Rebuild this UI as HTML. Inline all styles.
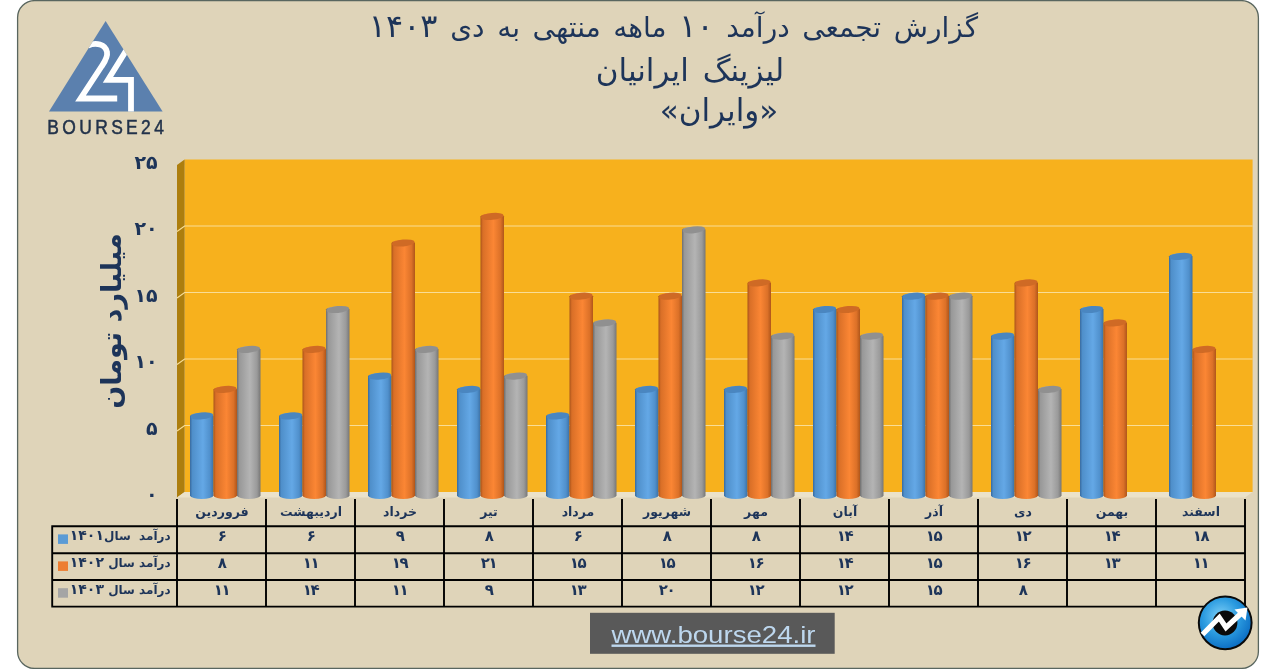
<!DOCTYPE html>
<html lang="fa"><head><meta charset="utf-8"><title>bourse24</title>
<style>html,body{margin:0;padding:0;background:#fff;}body{width:1271px;height:669px;overflow:hidden;}svg{display:block;}text{font-family:"DejaVu Sans", sans-serif;}text.la{font-family:"Liberation Sans",sans-serif;}</style>
</head><body>
<svg width="1271" height="669" viewBox="0 0 1271 669">
<defs>
<linearGradient id="gb" x1="0" y1="0" x2="1" y2="0">
<stop offset="0" stop-color="#386a9e"/>
<stop offset="0.1" stop-color="#4f8fca"/>
<stop offset="0.55" stop-color="#64a8e6"/>
<stop offset="0.85" stop-color="#5090cc"/>
<stop offset="1" stop-color="#3c70a4"/>
</linearGradient>
<linearGradient id="go" x1="0" y1="0" x2="1" y2="0">
<stop offset="0" stop-color="#a9531a"/>
<stop offset="0.1" stop-color="#d96f27"/>
<stop offset="0.55" stop-color="#fb8634"/>
<stop offset="0.85" stop-color="#dc7128"/>
<stop offset="1" stop-color="#b0561a"/>
</linearGradient>
<linearGradient id="gg" x1="0" y1="0" x2="1" y2="0">
<stop offset="0" stop-color="#6e6e6e"/>
<stop offset="0.1" stop-color="#989898"/>
<stop offset="0.55" stop-color="#b4b4b4"/>
<stop offset="0.85" stop-color="#9a9a9a"/>
<stop offset="1" stop-color="#767676"/>
</linearGradient>
<radialGradient id="ball" cx="0.42" cy="0.38" r="0.62"><stop offset="0" stop-color="#7fd0f7"/><stop offset="0.55" stop-color="#2b9be0"/><stop offset="1" stop-color="#0d6fc4"/></radialGradient>
</defs>
<rect x="17.6" y="0.6" width="1240.8" height="667.8" rx="17" ry="17" fill="#dfd4b9" stroke="#59665f" stroke-width="1.3"/>
<clipPath id="tri"><polygon points="105.6,21 49,111.5 162.6,111.5"/></clipPath>
<g>
<polygon points="105.6,21 49,111.5 162.6,111.5" fill="#5b80ae"/>
<g clip-path="url(#tri)">
<path d="M88,45.5 C96,42 105.5,44 107,52 C108,57.5 104.5,62 101.5,66.5 L80.5,98.5 L117.2,98.5" fill="none" stroke="#fff" stroke-width="5.8"/>
<path d="M129,46 L108,79.8 L131,79.8 L131,113" fill="none" stroke="#fff" stroke-width="5.8"/>
</g>
<text transform="translate(47.3,133.9) scale(0.86,1)" class="la" font-size="20.3" letter-spacing="3.9" fill="#22324a" stroke="#22324a" stroke-width="0.5">BOURSE24</text>
</g>
<text x="673.4" y="36.8" text-anchor="middle" font-size="28" word-spacing="3.7" fill="#1d3459" direction="rtl">گزارش تجمعی درآمد <tspan font-size="32">۱۰</tspan> ماهه منتهی به دی <tspan font-size="32">۱۴۰۳</tspan></text>
<text x="690" y="80.5" text-anchor="middle" font-size="31" word-spacing="4" fill="#1d3459" direction="rtl">لیزینگ ایرانیان</text>
<text x="719" y="121" text-anchor="middle" font-size="31" fill="#1d3459" direction="rtl">«وایران»</text>
<polygon points="184.6,159.5 1252.6,159.5 1252.6,492.0 184.6,492.0" fill="#f7b11d"/>
<polygon points="177.0,165.0 184.6,159.5 184.6,492.0 177.0,497.5" fill="#ad7e0e"/>
<polygon points="177.0,497.5 184.6,492.0 1252.6,492.0 1245.0,497.5" fill="#ebe2ca"/>
<path d="M177.0,231.5 L184.6,226.0 L1252.6,226.0" fill="none" stroke="#f9dd96" stroke-width="1.15"/>
<path d="M177.0,298.0 L184.6,292.5 L1252.6,292.5" fill="none" stroke="#f9dd96" stroke-width="1.15"/>
<path d="M177.0,364.5 L184.6,359.0 L1252.6,359.0" fill="none" stroke="#f9dd96" stroke-width="1.15"/>
<path d="M177.0,431.0 L184.6,425.5 L1252.6,425.5" fill="none" stroke="#f9dd96" stroke-width="1.15"/>
<path d="M190.0,415.9 L190.0,495.8 A11.8,3.4 0 0 0 213.5,495.8 L213.5,415.9 A11.8,3.4 0 0 0 190.0,415.9 Z" fill="url(#gb)"/>
<ellipse cx="201.8" cy="415.9" rx="11.4" ry="3.4" fill="#4a86c0" transform="rotate(-6 201.8 415.9)"/>
<path d="M213.5,389.4 L213.5,495.8 A11.8,3.4 0 0 0 237.0,495.8 L237.0,389.4 A11.8,3.4 0 0 0 213.5,389.4 Z" fill="url(#go)"/>
<ellipse cx="225.2" cy="389.4" rx="11.4" ry="3.4" fill="#cf6a25" transform="rotate(-6 225.2 389.4)"/>
<path d="M237.0,349.4 L237.0,495.8 A11.8,3.4 0 0 0 260.5,495.8 L260.5,349.4 A11.8,3.4 0 0 0 237.0,349.4 Z" fill="url(#gg)"/>
<ellipse cx="248.8" cy="349.4" rx="11.4" ry="3.4" fill="#909090" transform="rotate(-6 248.8 349.4)"/>
<path d="M279.0,415.9 L279.0,495.8 A11.8,3.4 0 0 0 302.5,495.8 L302.5,415.9 A11.8,3.4 0 0 0 279.0,415.9 Z" fill="url(#gb)"/>
<ellipse cx="290.8" cy="415.9" rx="11.4" ry="3.4" fill="#4a86c0" transform="rotate(-6 290.8 415.9)"/>
<path d="M302.5,349.4 L302.5,495.8 A11.8,3.4 0 0 0 326.0,495.8 L326.0,349.4 A11.8,3.4 0 0 0 302.5,349.4 Z" fill="url(#go)"/>
<ellipse cx="314.2" cy="349.4" rx="11.4" ry="3.4" fill="#cf6a25" transform="rotate(-6 314.2 349.4)"/>
<path d="M326.0,309.5 L326.0,495.8 A11.8,3.4 0 0 0 349.5,495.8 L349.5,309.5 A11.8,3.4 0 0 0 326.0,309.5 Z" fill="url(#gg)"/>
<ellipse cx="337.8" cy="309.5" rx="11.4" ry="3.4" fill="#909090" transform="rotate(-6 337.8 309.5)"/>
<path d="M368.0,376.1 L368.0,495.8 A11.8,3.4 0 0 0 391.5,495.8 L391.5,376.1 A11.8,3.4 0 0 0 368.0,376.1 Z" fill="url(#gb)"/>
<ellipse cx="379.8" cy="376.1" rx="11.4" ry="3.4" fill="#4a86c0" transform="rotate(-6 379.8 376.1)"/>
<path d="M391.5,243.0 L391.5,495.8 A11.8,3.4 0 0 0 415.0,495.8 L415.0,243.0 A11.8,3.4 0 0 0 391.5,243.0 Z" fill="url(#go)"/>
<ellipse cx="403.2" cy="243.0" rx="11.4" ry="3.4" fill="#cf6a25" transform="rotate(-6 403.2 243.0)"/>
<path d="M415.0,349.4 L415.0,495.8 A11.8,3.4 0 0 0 438.5,495.8 L438.5,349.4 A11.8,3.4 0 0 0 415.0,349.4 Z" fill="url(#gg)"/>
<ellipse cx="426.8" cy="349.4" rx="11.4" ry="3.4" fill="#909090" transform="rotate(-6 426.8 349.4)"/>
<path d="M457.0,389.4 L457.0,495.8 A11.8,3.4 0 0 0 480.5,495.8 L480.5,389.4 A11.8,3.4 0 0 0 457.0,389.4 Z" fill="url(#gb)"/>
<ellipse cx="468.8" cy="389.4" rx="11.4" ry="3.4" fill="#4a86c0" transform="rotate(-6 468.8 389.4)"/>
<path d="M480.5,216.4 L480.5,495.8 A11.8,3.4 0 0 0 504.0,495.8 L504.0,216.4 A11.8,3.4 0 0 0 480.5,216.4 Z" fill="url(#go)"/>
<ellipse cx="492.2" cy="216.4" rx="11.4" ry="3.4" fill="#cf6a25" transform="rotate(-6 492.2 216.4)"/>
<path d="M504.0,376.1 L504.0,495.8 A11.8,3.4 0 0 0 527.5,495.8 L527.5,376.1 A11.8,3.4 0 0 0 504.0,376.1 Z" fill="url(#gg)"/>
<ellipse cx="515.8" cy="376.1" rx="11.4" ry="3.4" fill="#909090" transform="rotate(-6 515.8 376.1)"/>
<path d="M546.0,415.9 L546.0,495.8 A11.8,3.4 0 0 0 569.5,495.8 L569.5,415.9 A11.8,3.4 0 0 0 546.0,415.9 Z" fill="url(#gb)"/>
<ellipse cx="557.8" cy="415.9" rx="11.4" ry="3.4" fill="#4a86c0" transform="rotate(-6 557.8 415.9)"/>
<path d="M569.5,296.2 L569.5,495.8 A11.8,3.4 0 0 0 593.0,495.8 L593.0,296.2 A11.8,3.4 0 0 0 569.5,296.2 Z" fill="url(#go)"/>
<ellipse cx="581.2" cy="296.2" rx="11.4" ry="3.4" fill="#cf6a25" transform="rotate(-6 581.2 296.2)"/>
<path d="M593.0,322.9 L593.0,495.8 A11.8,3.4 0 0 0 616.5,495.8 L616.5,322.9 A11.8,3.4 0 0 0 593.0,322.9 Z" fill="url(#gg)"/>
<ellipse cx="604.8" cy="322.9" rx="11.4" ry="3.4" fill="#909090" transform="rotate(-6 604.8 322.9)"/>
<path d="M635.0,389.4 L635.0,495.8 A11.8,3.4 0 0 0 658.5,495.8 L658.5,389.4 A11.8,3.4 0 0 0 635.0,389.4 Z" fill="url(#gb)"/>
<ellipse cx="646.8" cy="389.4" rx="11.4" ry="3.4" fill="#4a86c0" transform="rotate(-6 646.8 389.4)"/>
<path d="M658.5,296.2 L658.5,495.8 A11.8,3.4 0 0 0 682.0,495.8 L682.0,296.2 A11.8,3.4 0 0 0 658.5,296.2 Z" fill="url(#go)"/>
<ellipse cx="670.2" cy="296.2" rx="11.4" ry="3.4" fill="#cf6a25" transform="rotate(-6 670.2 296.2)"/>
<path d="M682.0,229.8 L682.0,495.8 A11.8,3.4 0 0 0 705.5,495.8 L705.5,229.8 A11.8,3.4 0 0 0 682.0,229.8 Z" fill="url(#gg)"/>
<ellipse cx="693.8" cy="229.8" rx="11.4" ry="3.4" fill="#909090" transform="rotate(-6 693.8 229.8)"/>
<path d="M724.0,389.4 L724.0,495.8 A11.8,3.4 0 0 0 747.5,495.8 L747.5,389.4 A11.8,3.4 0 0 0 724.0,389.4 Z" fill="url(#gb)"/>
<ellipse cx="735.8" cy="389.4" rx="11.4" ry="3.4" fill="#4a86c0" transform="rotate(-6 735.8 389.4)"/>
<path d="M747.5,282.9 L747.5,495.8 A11.8,3.4 0 0 0 771.0,495.8 L771.0,282.9 A11.8,3.4 0 0 0 747.5,282.9 Z" fill="url(#go)"/>
<ellipse cx="759.2" cy="282.9" rx="11.4" ry="3.4" fill="#cf6a25" transform="rotate(-6 759.2 282.9)"/>
<path d="M771.0,336.1 L771.0,495.8 A11.8,3.4 0 0 0 794.5,495.8 L794.5,336.1 A11.8,3.4 0 0 0 771.0,336.1 Z" fill="url(#gg)"/>
<ellipse cx="782.8" cy="336.1" rx="11.4" ry="3.4" fill="#909090" transform="rotate(-6 782.8 336.1)"/>
<path d="M813.0,309.5 L813.0,495.8 A11.8,3.4 0 0 0 836.5,495.8 L836.5,309.5 A11.8,3.4 0 0 0 813.0,309.5 Z" fill="url(#gb)"/>
<ellipse cx="824.8" cy="309.5" rx="11.4" ry="3.4" fill="#4a86c0" transform="rotate(-6 824.8 309.5)"/>
<path d="M836.5,309.5 L836.5,495.8 A11.8,3.4 0 0 0 860.0,495.8 L860.0,309.5 A11.8,3.4 0 0 0 836.5,309.5 Z" fill="url(#go)"/>
<ellipse cx="848.2" cy="309.5" rx="11.4" ry="3.4" fill="#cf6a25" transform="rotate(-6 848.2 309.5)"/>
<path d="M860.0,336.1 L860.0,495.8 A11.8,3.4 0 0 0 883.5,495.8 L883.5,336.1 A11.8,3.4 0 0 0 860.0,336.1 Z" fill="url(#gg)"/>
<ellipse cx="871.8" cy="336.1" rx="11.4" ry="3.4" fill="#909090" transform="rotate(-6 871.8 336.1)"/>
<path d="M902.0,296.2 L902.0,495.8 A11.8,3.4 0 0 0 925.5,495.8 L925.5,296.2 A11.8,3.4 0 0 0 902.0,296.2 Z" fill="url(#gb)"/>
<ellipse cx="913.8" cy="296.2" rx="11.4" ry="3.4" fill="#4a86c0" transform="rotate(-6 913.8 296.2)"/>
<path d="M925.5,296.2 L925.5,495.8 A11.8,3.4 0 0 0 949.0,495.8 L949.0,296.2 A11.8,3.4 0 0 0 925.5,296.2 Z" fill="url(#go)"/>
<ellipse cx="937.2" cy="296.2" rx="11.4" ry="3.4" fill="#cf6a25" transform="rotate(-6 937.2 296.2)"/>
<path d="M949.0,296.2 L949.0,495.8 A11.8,3.4 0 0 0 972.5,495.8 L972.5,296.2 A11.8,3.4 0 0 0 949.0,296.2 Z" fill="url(#gg)"/>
<ellipse cx="960.8" cy="296.2" rx="11.4" ry="3.4" fill="#909090" transform="rotate(-6 960.8 296.2)"/>
<path d="M991.0,336.1 L991.0,495.8 A11.8,3.4 0 0 0 1014.5,495.8 L1014.5,336.1 A11.8,3.4 0 0 0 991.0,336.1 Z" fill="url(#gb)"/>
<ellipse cx="1002.8" cy="336.1" rx="11.4" ry="3.4" fill="#4a86c0" transform="rotate(-6 1002.8 336.1)"/>
<path d="M1014.5,282.9 L1014.5,495.8 A11.8,3.4 0 0 0 1038.0,495.8 L1038.0,282.9 A11.8,3.4 0 0 0 1014.5,282.9 Z" fill="url(#go)"/>
<ellipse cx="1026.2" cy="282.9" rx="11.4" ry="3.4" fill="#cf6a25" transform="rotate(-6 1026.2 282.9)"/>
<path d="M1038.0,389.4 L1038.0,495.8 A11.8,3.4 0 0 0 1061.5,495.8 L1061.5,389.4 A11.8,3.4 0 0 0 1038.0,389.4 Z" fill="url(#gg)"/>
<ellipse cx="1049.8" cy="389.4" rx="11.4" ry="3.4" fill="#909090" transform="rotate(-6 1049.8 389.4)"/>
<path d="M1080.0,309.5 L1080.0,495.8 A11.8,3.4 0 0 0 1103.5,495.8 L1103.5,309.5 A11.8,3.4 0 0 0 1080.0,309.5 Z" fill="url(#gb)"/>
<ellipse cx="1091.8" cy="309.5" rx="11.4" ry="3.4" fill="#4a86c0" transform="rotate(-6 1091.8 309.5)"/>
<path d="M1103.5,322.9 L1103.5,495.8 A11.8,3.4 0 0 0 1127.0,495.8 L1127.0,322.9 A11.8,3.4 0 0 0 1103.5,322.9 Z" fill="url(#go)"/>
<ellipse cx="1115.2" cy="322.9" rx="11.4" ry="3.4" fill="#cf6a25" transform="rotate(-6 1115.2 322.9)"/>
<path d="M1169.0,256.4 L1169.0,495.8 A11.8,3.4 0 0 0 1192.5,495.8 L1192.5,256.4 A11.8,3.4 0 0 0 1169.0,256.4 Z" fill="url(#gb)"/>
<ellipse cx="1180.8" cy="256.4" rx="11.4" ry="3.4" fill="#4a86c0" transform="rotate(-6 1180.8 256.4)"/>
<path d="M1192.5,349.4 L1192.5,495.8 A11.8,3.4 0 0 0 1216.0,495.8 L1216.0,349.4 A11.8,3.4 0 0 0 1192.5,349.4 Z" fill="url(#go)"/>
<ellipse cx="1204.2" cy="349.4" rx="11.4" ry="3.4" fill="#cf6a25" transform="rotate(-6 1204.2 349.4)"/>
<text x="157.6" y="501.1" text-anchor="end" font-size="19" font-weight="bold" fill="#1d3459">۰</text>
<text x="157.6" y="434.6" text-anchor="end" font-size="19" font-weight="bold" fill="#1d3459">۵</text>
<text x="157.6" y="368.1" text-anchor="end" font-size="19" font-weight="bold" fill="#1d3459">۱۰</text>
<text x="157.6" y="301.6" text-anchor="end" font-size="19" font-weight="bold" fill="#1d3459">۱۵</text>
<text x="157.6" y="235.1" text-anchor="end" font-size="19" font-weight="bold" fill="#1d3459">۲۰</text>
<text x="157.6" y="168.6" text-anchor="end" font-size="19" font-weight="bold" fill="#1d3459">۲۵</text>
<text transform="translate(121,321) rotate(-90)" text-anchor="middle" font-size="27" font-weight="bold" fill="#1d3459" direction="rtl">میلیارد تومان</text>
<path d="M51.3,526.2 H1245.9 M51.3,553.2 H1245.9 M51.3,580.0 H1245.9 M51.3,606.6 H1245.9 M52.2,526.2 V606.6 M177.0,498.9 V606.6 M266.0,498.9 V606.6 M355.0,498.9 V606.6 M444.0,498.9 V606.6 M533.0,498.9 V606.6 M622.0,498.9 V606.6 M711.0,498.9 V606.6 M800.0,498.9 V606.6 M889.0,498.9 V606.6 M978.0,498.9 V606.6 M1067.0,498.9 V606.6 M1156.0,498.9 V606.6 M1245.0,498.9 V606.6" fill="none" stroke="#000" stroke-width="1.9"/>
<text x="222.0" y="516.2" text-anchor="middle" font-size="12.5" font-weight="bold" fill="#1d3459" direction="rtl">فروردین</text>
<text x="311.0" y="516.2" text-anchor="middle" font-size="12.5" font-weight="bold" fill="#1d3459" direction="rtl">اردیبهشت</text>
<text x="400.0" y="516.2" text-anchor="middle" font-size="12.5" font-weight="bold" fill="#1d3459" direction="rtl">خرداد</text>
<text x="489.0" y="516.2" text-anchor="middle" font-size="12.5" font-weight="bold" fill="#1d3459" direction="rtl">تیر</text>
<text x="578.0" y="516.2" text-anchor="middle" font-size="12.5" font-weight="bold" fill="#1d3459" direction="rtl">مرداد</text>
<text x="667.0" y="516.2" text-anchor="middle" font-size="12.5" font-weight="bold" fill="#1d3459" direction="rtl">شهریور</text>
<text x="756.0" y="516.2" text-anchor="middle" font-size="12.5" font-weight="bold" fill="#1d3459" direction="rtl">مهر</text>
<text x="845.0" y="516.2" text-anchor="middle" font-size="12.5" font-weight="bold" fill="#1d3459" direction="rtl">آبان</text>
<text x="934.0" y="516.2" text-anchor="middle" font-size="12.5" font-weight="bold" fill="#1d3459" direction="rtl">آذر</text>
<text x="1023.0" y="516.2" text-anchor="middle" font-size="12.5" font-weight="bold" fill="#1d3459" direction="rtl">دی</text>
<text x="1112.0" y="516.2" text-anchor="middle" font-size="12.5" font-weight="bold" fill="#1d3459" direction="rtl">بهمن</text>
<text x="1201.0" y="516.2" text-anchor="middle" font-size="12.5" font-weight="bold" fill="#1d3459" direction="rtl">اسفند</text>
<text x="222.3" y="541.0" text-anchor="middle" font-size="15" font-weight="bold" fill="#1d3459">۶</text>
<text x="311.3" y="541.0" text-anchor="middle" font-size="15" font-weight="bold" fill="#1d3459">۶</text>
<text x="400.3" y="541.0" text-anchor="middle" font-size="15" font-weight="bold" fill="#1d3459">۹</text>
<text x="489.3" y="541.0" text-anchor="middle" font-size="15" font-weight="bold" fill="#1d3459">۸</text>
<text x="578.3" y="541.0" text-anchor="middle" font-size="15" font-weight="bold" fill="#1d3459">۶</text>
<text x="667.3" y="541.0" text-anchor="middle" font-size="15" font-weight="bold" fill="#1d3459">۸</text>
<text x="756.3" y="541.0" text-anchor="middle" font-size="15" font-weight="bold" fill="#1d3459">۸</text>
<text x="845.3" y="541.0" text-anchor="middle" font-size="15" font-weight="bold" fill="#1d3459">۱<tspan dx="-1.4">۴</tspan></text>
<text x="934.3" y="541.0" text-anchor="middle" font-size="15" font-weight="bold" fill="#1d3459">۱<tspan dx="-1.4">۵</tspan></text>
<text x="1023.3" y="541.0" text-anchor="middle" font-size="15" font-weight="bold" fill="#1d3459">۱<tspan dx="-1.4">۲</tspan></text>
<text x="1112.3" y="541.0" text-anchor="middle" font-size="15" font-weight="bold" fill="#1d3459">۱<tspan dx="-1.4">۴</tspan></text>
<text x="1201.3" y="541.0" text-anchor="middle" font-size="15" font-weight="bold" fill="#1d3459">۱<tspan dx="-1.4">۸</tspan></text>
<text x="222.3" y="568.0" text-anchor="middle" font-size="15" font-weight="bold" fill="#1d3459">۸</text>
<text x="311.3" y="568.0" text-anchor="middle" font-size="15" font-weight="bold" fill="#1d3459">۱<tspan dx="-1.4">۱</tspan></text>
<text x="400.3" y="568.0" text-anchor="middle" font-size="15" font-weight="bold" fill="#1d3459">۱<tspan dx="-1.4">۹</tspan></text>
<text x="489.3" y="568.0" text-anchor="middle" font-size="15" font-weight="bold" fill="#1d3459">۲<tspan dx="-1.4">۱</tspan></text>
<text x="578.3" y="568.0" text-anchor="middle" font-size="15" font-weight="bold" fill="#1d3459">۱<tspan dx="-1.4">۵</tspan></text>
<text x="667.3" y="568.0" text-anchor="middle" font-size="15" font-weight="bold" fill="#1d3459">۱<tspan dx="-1.4">۵</tspan></text>
<text x="756.3" y="568.0" text-anchor="middle" font-size="15" font-weight="bold" fill="#1d3459">۱<tspan dx="-1.4">۶</tspan></text>
<text x="845.3" y="568.0" text-anchor="middle" font-size="15" font-weight="bold" fill="#1d3459">۱<tspan dx="-1.4">۴</tspan></text>
<text x="934.3" y="568.0" text-anchor="middle" font-size="15" font-weight="bold" fill="#1d3459">۱<tspan dx="-1.4">۵</tspan></text>
<text x="1023.3" y="568.0" text-anchor="middle" font-size="15" font-weight="bold" fill="#1d3459">۱<tspan dx="-1.4">۶</tspan></text>
<text x="1112.3" y="568.0" text-anchor="middle" font-size="15" font-weight="bold" fill="#1d3459">۱<tspan dx="-1.4">۳</tspan></text>
<text x="1201.3" y="568.0" text-anchor="middle" font-size="15" font-weight="bold" fill="#1d3459">۱<tspan dx="-1.4">۱</tspan></text>
<text x="222.3" y="594.8" text-anchor="middle" font-size="15" font-weight="bold" fill="#1d3459">۱<tspan dx="-1.4">۱</tspan></text>
<text x="311.3" y="594.8" text-anchor="middle" font-size="15" font-weight="bold" fill="#1d3459">۱<tspan dx="-1.4">۴</tspan></text>
<text x="400.3" y="594.8" text-anchor="middle" font-size="15" font-weight="bold" fill="#1d3459">۱<tspan dx="-1.4">۱</tspan></text>
<text x="489.3" y="594.8" text-anchor="middle" font-size="15" font-weight="bold" fill="#1d3459">۹</text>
<text x="578.3" y="594.8" text-anchor="middle" font-size="15" font-weight="bold" fill="#1d3459">۱<tspan dx="-1.4">۳</tspan></text>
<text x="667.3" y="594.8" text-anchor="middle" font-size="15" font-weight="bold" fill="#1d3459">۲<tspan dx="-1.4">۰</tspan></text>
<text x="756.3" y="594.8" text-anchor="middle" font-size="15" font-weight="bold" fill="#1d3459">۱<tspan dx="-1.4">۲</tspan></text>
<text x="845.3" y="594.8" text-anchor="middle" font-size="15" font-weight="bold" fill="#1d3459">۱<tspan dx="-1.4">۲</tspan></text>
<text x="934.3" y="594.8" text-anchor="middle" font-size="15" font-weight="bold" fill="#1d3459">۱<tspan dx="-1.4">۵</tspan></text>
<text x="1023.3" y="594.8" text-anchor="middle" font-size="15" font-weight="bold" fill="#1d3459">۸</text>
<rect x="58" y="534.4" width="10" height="9.5" fill="#5b9bd5"/>
<text x="170.6" y="540.0" text-anchor="start" font-size="12" font-weight="bold" fill="#1d3459" direction="rtl">درآمد  سال<tspan font-size="14">۱۴۰۱</tspan></text>
<rect x="58" y="561.4" width="10" height="9.5" fill="#ed7d31"/>
<text x="170.6" y="567.0" text-anchor="start" font-size="12" font-weight="bold" fill="#1d3459" direction="rtl">درآمد سال <tspan font-size="14">۱۴۰۲</tspan></text>
<rect x="58" y="588.2" width="10" height="9.5" fill="#a5a5a5"/>
<text x="170.6" y="593.8" text-anchor="start" font-size="12" font-weight="bold" fill="#1d3459" direction="rtl">درآمد سال <tspan font-size="14">۱۴۰۳</tspan></text>
<rect x="590" y="612.8" width="244.7" height="41" fill="#595959"/>
<text x="713.5" y="642.5" text-anchor="middle" class="la" font-size="24" fill="#bdd7ee" text-decoration="underline" textLength="204" lengthAdjust="spacingAndGlyphs">www.bourse24.ir</text>
<g>
<circle cx="1225.2" cy="622.8" r="26.4" fill="url(#ball)" stroke="#0a0a0a" stroke-width="2"/>
<circle cx="1225" cy="623" r="12.4" fill="#0a0a0a"/>
<path d="M1202.5,634.5 L1219.3,617.5 L1226,627.5 L1241,613.5" fill="none" stroke="#fff" stroke-width="5.2" stroke-linejoin="miter"/>
<polygon points="1247.5,607.5 1234.5,609.5 1245.5,620.5" fill="#fff"/>
</g>
</svg>
</body></html>
